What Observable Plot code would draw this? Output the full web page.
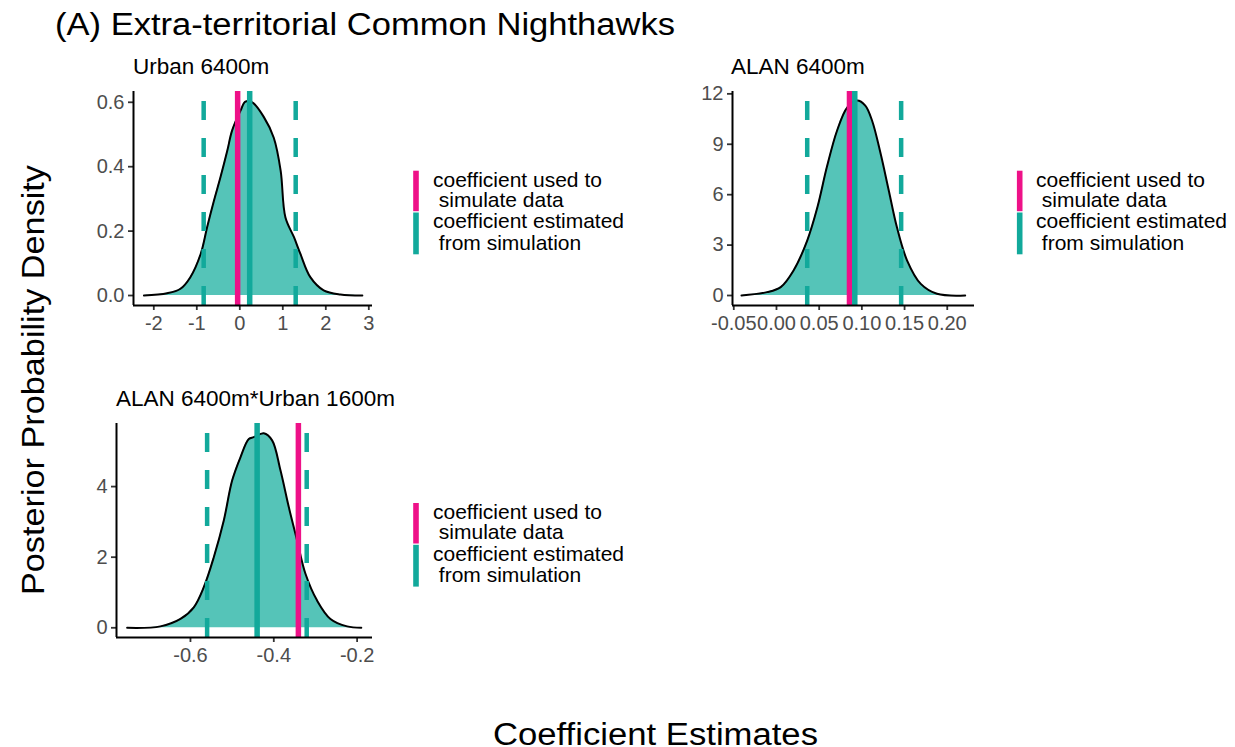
<!DOCTYPE html>
<html>
<head>
<meta charset="utf-8">
<script src="https://cdn.jsdelivr.net/npm/d3@7"></script>
<script src="https://cdn.jsdelivr.net/npm/@observablehq/plot@0.6"></script>
<style>
  html, body { margin: 0; padding: 0; background: #ffffff; }
  #page { position: relative; width: 1235px; height: 747px; overflow: hidden; background: #fff; font-family: "Liberation Sans", Arial, sans-serif; }
  #page > figure, #page > svg.plot { position: absolute; margin: 0; }
  #overlay { position: absolute; left: 0; top: 0; }
</style>
</head>
<body>
<div id="page"></div>
<script>
// ---------- DATA ----------
const mainTitle = "(A) Extra-territorial Common Nighthawks";
const yTitle = "Posterior Probability Density";
const xTitle = "Coefficient Estimates";
const panelTitles = ["Urban 6400m", "ALAN 6400m", "ALAN 6400m*Urban 1600m"];
const legendLabels = [["coefficient used to", " simulate data"], ["coefficient estimated", " from simulation"]];

// Panel 1: Urban 6400m
const urbanX = [-2.23, -1.69, -1.38, -1.15, -0.91, -0.76, -0.60, -0.45, -0.29, -0.18, 0.02, 0.13, 0.29, 0.56, 0.79, 0.95, 1.06, 1.26, 1.41, 1.64, 1.95, 2.34, 2.85];
const urbanDensity = [0, 0.007, 0.021, 0.057, 0.129, 0.212, 0.295, 0.367, 0.45, 0.512, 0.575, 0.602, 0.600, 0.554, 0.49, 0.388, 0.243, 0.181, 0.129, 0.057, 0.016, 0.003, 0];
const urbanTrue = -0.05, urbanEst = 0.23, urbanLow = -0.84, urbanHigh = 1.30;
const urbanXTicks = [-2, -1, 0, 1, 2, 3];
const urbanYTicks = [0, 0.2, 0.4, 0.6];

// Panel 2: ALAN 6400m
const alanX = [-0.041, -0.011, 0.005, 0.020, 0.036, 0.048, 0.059, 0.071, 0.083, 0.0945, 0.104, 0.112, 0.122, 0.1315, 0.141, 0.153, 0.169, 0.188, 0.221];
const alanDensity = [0, 0.2, 0.5, 1.49, 3.27, 5.26, 7.64, 9.82, 11.2, 11.6, 11.3, 10.4, 8.43, 6.25, 4.07, 2.08, 0.69, 0.1, 0];
const alanTrue = 0.0855, alanEst = 0.0917, alanLow = 0.036, alanHigh = 0.146;
const alanXTicks = [-0.05, 0, 0.05, 0.10, 0.15, 0.20];
const alanYTicks = [0, 3, 6, 9, 12];

// Panel 3: ALAN 6400m*Urban 1600m
const interX = [-0.752, -0.672, -0.624, -0.592, -0.568, -0.544, -0.52, -0.50, -0.48, -0.46, -0.448, -0.424, -0.404, -0.384, -0.364, -0.344, -0.324, -0.296, -0.264, -0.224, -0.19];
const interDensity = [0, 0.04, 0.25, 0.58, 1.15, 2.0, 3.04, 4.17, 4.83, 5.35, 5.40, 5.51, 5.31, 4.46, 3.42, 2.47, 1.53, 0.77, 0.25, 0.04, 0];
const interTrue = -0.341, interEst = -0.44, interLow = -0.56, interHigh = -0.321;
const interXTicks = [-0.6, -0.4, -0.2];
const interYTicks = [0, 2, 4];

// ---------- STYLE ----------
const FILL = "#55C4B8";
const TEAL = "#12A99B";
const PINK = "#EE1188";
const FONT = "'Liberation Sans', Arial, sans-serif";

const page = document.getElementById("page");

function panel(cfg) {
  const ml = 70, mr = 12, mt = 6, mb = 40;
  const fw = cfg.frame.right - cfg.frame.left;
  const fh = cfg.frame.bottom - cfg.frame.top;
  const data = cfg.xs.map((x, i) => ({x, y: cfg.ys[i]}));
  const yd = cfg.yDomain, xd = cfg.xDomain;
  const y1 = () => yd[0], y2 = () => yd[1];
  const chart = Plot.plot({
    width: fw + ml + mr,
    height: fh + mt + mb,
    marginLeft: ml, marginRight: mr, marginTop: mt, marginBottom: mb,
    x: {domain: xd},
    y: {domain: yd},
    style: {fontFamily: FONT, fontSize: "20px", color: "#4D4D4D", background: "transparent", overflow: "visible"},
    marks: [
      Plot.areaY(data, {x: "x", y: "y", fill: FILL, curve: "catmull-rom"}),
      Plot.lineY(data, {x: "x", y: "y", stroke: "#000", strokeWidth: 2, curve: "catmull-rom"}),
      Plot.ruleX([cfg.low, cfg.high], {x: d => d, y1, y2, stroke: TEAL, strokeWidth: 4.5, strokeDasharray: "19,18"}),
      Plot.ruleX([cfg.truth], {x: d => d, y1, y2, stroke: PINK, strokeWidth: 5.5}),
      Plot.ruleX([cfg.est], {x: d => d, y1, y2, stroke: TEAL, strokeWidth: 5.5}),
      Plot.axisX({ticks: cfg.xTicks, tickFormat: cfg.xFmt, tickSize: 5, tickPadding: 5, stroke: "#333", strokeWidth: 1.8, fill: "#4D4D4D", label: null}),
      Plot.axisY({ticks: cfg.yTicks, tickFormat: cfg.yFmt, tickSize: 5, tickPadding: 4, stroke: "#333", strokeWidth: 1.8, fill: "#4D4D4D", label: null}),
      Plot.ruleY([yd[0]], {stroke: "#000", strokeWidth: 2}),
      Plot.ruleX([xd[0]], {stroke: "#000", strokeWidth: 2})
    ]
  });
  chart.style.position = "absolute";
  chart.style.left = (cfg.frame.left - ml) + "px";
  chart.style.top = (cfg.frame.top - mt) + "px";
  page.appendChild(chart);
}

panel({
  xs: urbanX, ys: urbanDensity, truth: urbanTrue, est: urbanEst, low: urbanLow, high: urbanHigh,
  xDomain: [-2.472, 3.086], yDomain: [-0.031, 0.6335],
  xTicks: urbanXTicks, yTicks: urbanYTicks, xFmt: d => d.toFixed(0), yFmt: d => d.toFixed(1),
  frame: {left: 133, right: 372, top: 91, bottom: 305}
});
panel({
  xs: alanX, ys: alanDensity, truth: alanTrue, est: alanEst, low: alanLow, high: alanHigh,
  xDomain: [-0.0515, 0.2319], yDomain: [-0.595, 12.14],
  xTicks: alanXTicks, yTicks: alanYTicks, xFmt: d => d.toFixed(2), yFmt: d => d.toFixed(0),
  frame: {left: 732, right: 974, top: 91, bottom: 305}
});
panel({
  xs: interX, ys: interDensity, truth: interTrue, est: interEst, low: interLow, high: interHigh,
  xDomain: [-0.7775, -0.1631], yDomain: [-0.275, 5.787],
  xTicks: interXTicks, yTicks: interYTicks, xFmt: d => d.toFixed(1), yFmt: d => d.toFixed(0),
  frame: {left: 116, right: 372, top: 423, bottom: 637}
});

// ---------- TEXT OVERLAY ----------
const svg = d3.select(page).append("svg").attr("id", "overlay")
  .attr("width", 1235).attr("height", 747)
  .style("font-family", FONT);

svg.append("text").attr("x", 55).attr("y", 35).attr("font-size", 31)
  .attr("textLength", 620).attr("lengthAdjust", "spacingAndGlyphs").text(mainTitle);

svg.append("text").attr("transform", "translate(44,380) rotate(-90)").attr("text-anchor", "middle")
  .attr("font-size", 31).attr("textLength", 430).attr("lengthAdjust", "spacingAndGlyphs").text(yTitle);

svg.append("text").attr("x", 493).attr("y", 745).attr("font-size", 31)
  .attr("textLength", 325).attr("lengthAdjust", "spacingAndGlyphs").text(xTitle);

const titlePos = [[133, 74], [731, 74], [116, 406]];
panelTitles.forEach((t, i) => {
  svg.append("text").attr("x", titlePos[i][0]).attr("y", titlePos[i][1]).attr("font-size", 22.5).text(t);
});

function legend(xBar, xText, dy) {
  const g = svg.append("g").attr("transform", `translate(0,${dy})`);
  g.append("rect").attr("x", xBar - 2.8).attr("y", 170.7).attr("width", 5.6).attr("height", 40.5).attr("fill", PINK);
  g.append("rect").attr("x", xBar - 2.8).attr("y", 212.5).attr("width", 5.6).attr("height", 41.8).attr("fill", TEAL);
  const base = [[186.7, 206.7], [228.3, 250]];
  legendLabels.forEach((lines, k) => {
    lines.forEach((ln, j) => {
      g.append("text").attr("x", xText).attr("y", base[k][j]).attr("font-size", 21)
        .attr("xml:space", "preserve").style("white-space", "pre").text(ln);
    });
  });
}
legend(416, 433, 0);
legend(1019.7, 1036, 0);
legend(416, 433, 332.3);
</script>
</body>
</html>
